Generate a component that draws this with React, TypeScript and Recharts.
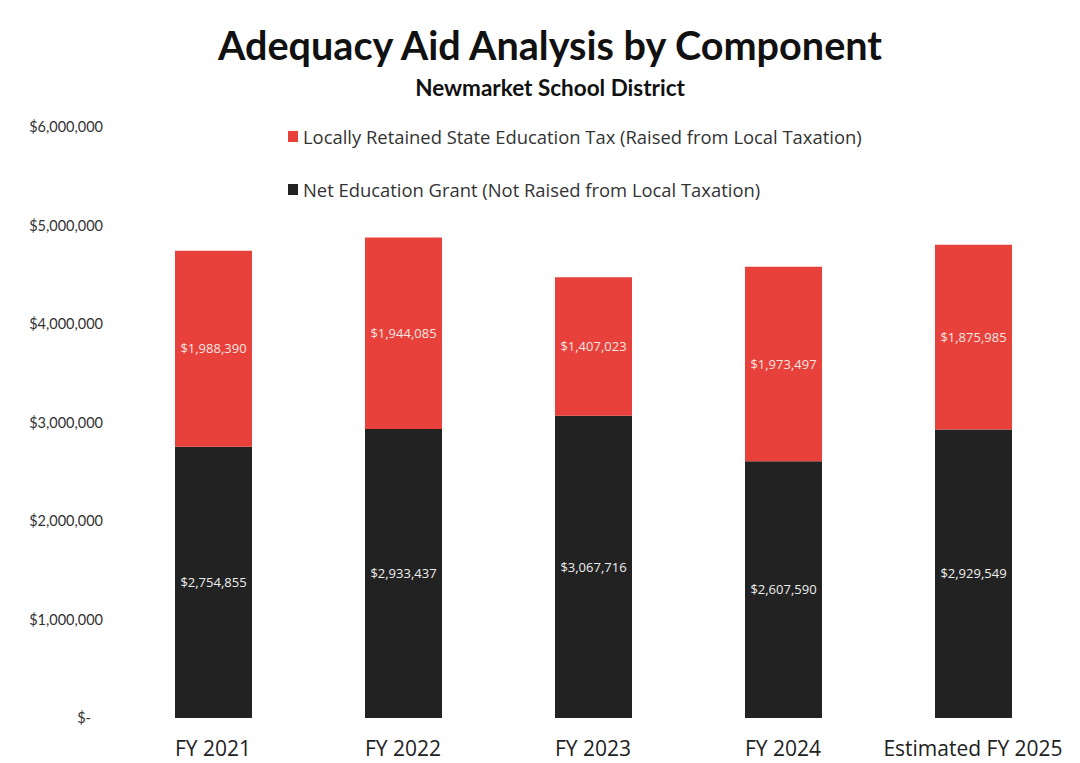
import { BarChart, Bar, XAxis, YAxis, LabelList } from 'recharts'

const years = ['FY 2021', 'FY 2022', 'FY 2023', 'FY 2024', 'Estimated FY 2025']
const netGrant = [2754855, 2933437, 3067716, 2607590, 2929549]
const localTax = [1988390, 1944085, 1407023, 1973497, 1875985]
const yTicks = [0, 1000000, 2000000, 3000000, 4000000, 5000000, 6000000]

const RED = '#e8403b' // red segment
const DARK = '#222222' // dark segment

const data = years.map((y, i) => ({ year: y, grant: netGrant[i], tax: localTax[i] }))

const money = (v: number) => '$' + v.toLocaleString('en-US')

const YTick = (props: any) => {
  const { x, y, payload } = props
  const v = payload.value as number
  return (
    <text
      x={v === 0 ? x - 12 : x}
      y={y}
      dy={5}
      textAnchor="end"
      fill="#333"
      fontSize={14.5}
      fontFamily="Lato, 'Open Sans', sans-serif"
    >
      {v === 0 ? '$-' : money(v)}
    </text>
  )
}

const LegendBox = () => (
  <div
    style={{
      position: 'absolute',
      top: 125,
      left: 288,
      fontFamily: "'Open Sans', Lato, sans-serif",
      fontSize: 18.4,
      color: '#333',
      whiteSpace: 'nowrap',
    }}
  >
    <div style={{ display: 'flex', alignItems: 'center', height: 22 }}>
      <span style={{ width: 10, height: 11, background: RED, marginRight: 5, display: 'inline-block' }} />
      Locally Retained State Education Tax (Raised from Local Taxation)
    </div>
    <div style={{ display: 'flex', alignItems: 'center', height: 22, marginTop: 31 }}>
      <span style={{ width: 10, height: 11, background: DARK, marginRight: 5, display: 'inline-block' }} />
      Net Education Grant (Not Raised from Local Taxation)
    </div>
  </div>
)

export default function App() {
  return (
    <div style={{ position: 'absolute', left: 0, top: 0, width: 1080, height: 763, background: '#fff' }}>
      <BarChart
        width={1080}
        height={763}
        data={data}
        margin={{ top: 127, right: 12, bottom: 0, left: 0 }}
        barCategoryGap="20%"
      >
        <XAxis
          dataKey="year"
          height={45}
          axisLine={false}
          tickLine={false}
          tick={{ fill: '#222', fontSize: 21, fontFamily: "'Open Sans', Lato, sans-serif" }}
          tickMargin={17}
        />
        <YAxis
          domain={[0, 6000000]}
          ticks={yTicks}
          width={118}
          axisLine={false}
          tickLine={false}
          tick={<YTick />}
          tickMargin={9}
        />
        <Bar dataKey="grant" stackId="a" fill={DARK} barSize={77} isAnimationActive={false}>
          <LabelList
            dataKey="grant"
            position="center"
            formatter={(v: any) => money(Number(v))}
            fill="#eee"
            fontSize={13}
            fontFamily="'Open Sans', sans-serif"
          />
        </Bar>
        <Bar dataKey="tax" stackId="a" fill={RED} barSize={77} isAnimationActive={false}>
          <LabelList
            dataKey="tax"
            position="center"
            formatter={(v: any) => money(Number(v))}
            fill="#f4e6e0"
            fontSize={13}
            fontFamily="'Open Sans', sans-serif"
          />
        </Bar>
      </BarChart>
      <div
        style={{
          position: 'absolute',
          top: 21,
          left: 0,
          width: 1100,
          textAlign: 'center',
          fontFamily: "Lato, 'Open Sans', sans-serif",
          fontWeight: 700,
          fontSize: 39.6,
          color: '#111',
        }}
      >
        Adequacy Aid Analysis by Component
      </div>
      <div
        style={{
          position: 'absolute',
          top: 74,
          left: 0,
          width: 1100,
          textAlign: 'center',
          fontFamily: "Lato, 'Open Sans', sans-serif",
          fontWeight: 700,
          fontSize: 22.5,
          color: '#111',
        }}
      >
        Newmarket School District
      </div>
      <LegendBox />
    </div>
  )
}
